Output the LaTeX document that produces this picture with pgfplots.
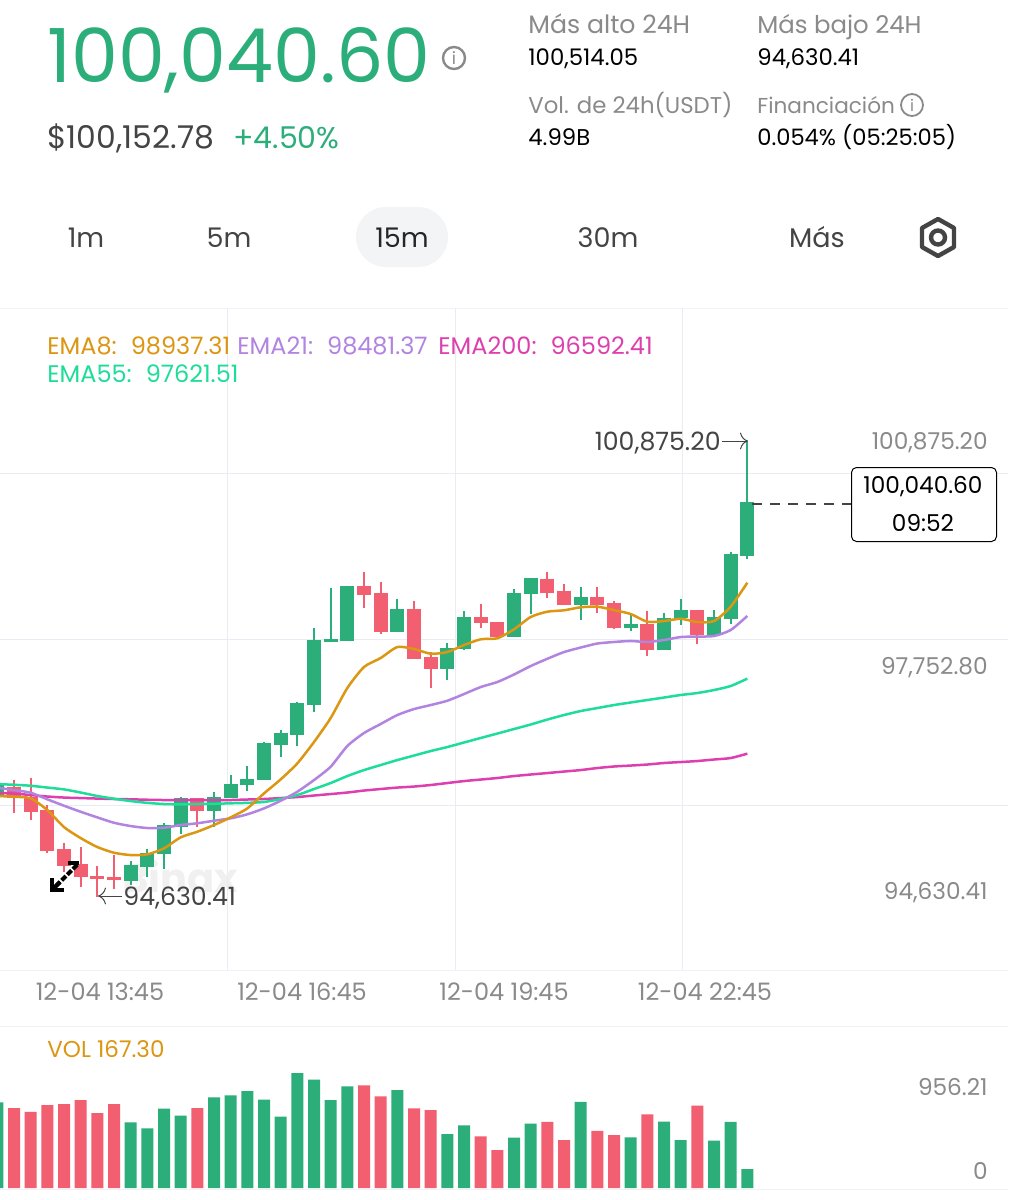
\documentclass[border=0pt]{standalone}
\usepackage{fontspec}
\setmainfont{Poppins}
\usepackage{pgfplots}
\usepackage{pgfplotstable}
\usetikzlibrary{arrows.meta}
\pgfplotsset{compat=1.18}
\definecolor{cgreen}{HTML}{2BAE7A}
\definecolor{cred}{HTML}{F25F70}
\definecolor{cema8}{HTML}{DB9612}
\definecolor{cema21}{HTML}{B284E0}
\definecolor{cema55}{HTML}{1EDD9A}
\definecolor{cema200}{HTML}{DE3FAE}
\definecolor{cgrid}{HTML}{E9ECF3}
\definecolor{clabel}{HTML}{8A8A8A}
\definecolor{cdark}{HTML}{444444}
\definecolor{cpill}{HTML}{F3F4F6}
\pgfplotstableread{
i open high low close
0 96024 96161 95983 96161
8 94845 95119 94790 95069
9 95041 95288 94903 95225
10 95211 95645 95005 95613
11 95590 95993 95489 95979
13 95805 96066 95590 96001
14 95988 96299 95988 96175
15 96162 96427 96084 96248
16 96230 96756 96230 96742
17 96710 96916 96546 96875
18 96848 97305 96697 97283
19 97259 98316 97163 98151
20 98128 98865 98128 98165
21 98138 98892 98138 98892
24 98257 98718 98257 98581
27 97757 98114 97602 98041
28 98023 98549 98014 98463
31 98196 98846 98196 98800
32 98778 99002 98508 98997
35 98631 98874 98425 98745
38 98320 98518 98274 98375
40 98014 98526 98014 98449
41 98449 98713 98357 98559
43 98224 98559 98188 98463
44 98443 99362 98371 99331
45 99308 100875.20 99258 100040.60
}\tGreen
\pgfplotstableread{
i open high low close
1 96138 96230 95781 95983
2 95997 96257 95681 95795
3 95818 95887 95233 95260
4 95284 95370 94972 95051
5 95074 95316 94767 94895
6 94917 95051 94630.41 94876
7 94903 95201 94735 94858
12 95979 95983 95590 95805
22 98896 99084 98594 98768
23 98792 98951 98234 98257
25 98581 98686 97890 97890
26 97913 97990 97493 97757
29 98463 98645 98316 98380
30 98402 98402 98196 98196
33 98992 99080 98731 98792
34 98823 98919 98631 98631
36 98745 98874 98518 98636
37 98663 98686 98302 98320
39 98371 98549 97936 98014
42 98559 98562 98097 98224
}\tRed
\pgfplotstableread{
i ema8 ema21 ema55 ema200
0 96011 96125 96175 96052
1 96001 96093 96165 96045
2 95979 96056 96152 96024
3 95818 95966 96127 96004
4 95585 95878 96102 95990
5 95434 95795 96059 95983
6 95311 95718 96011 95976
7 95233 95644 95974 95970
8 95201 95599 95942 95966
9 95211 95572 95917 95960
10 95293 95576 95901 95956
11 95444 95613 95897 95956
12 95521 95637 95901 95956
13 95613 95672 95904 95956
14 95718 95705 95911 95956
15 95841 95760 95917 95963
16 96047 95841 95929 95970
17 96239 95946 95970 95983
18 96459 96070 96024 95997
19 96752 96230 96107 96018
20 97081 96413 96189 96038
21 97493 96697 96285 96059
22 97781 96875 96367 96086
23 97904 96999 96436 96107
24 98055 97122 96504 96127
25 98028 97204 96566 96141
26 97963 97259 96628 96162
27 97986 97318 96683 96189
28 98082 97410 96745 96216
29 98161 97506 96807 96237
30 98175 97575 96868 96258
31 98298 97678 96930 96285
32 98467 97794 96992 96306
33 98540 97894 97060 96326
34 98559 97986 97122 96347
35 98600 98048 97177 96367
36 98608 98103 97218 96395
37 98562 98124 97259 96416
38 98508 98138 97294 96429
39 98402 98124 97328 96443
40 98411 98151 97362 96464
41 98443 98192 97397 96477
42 98398 98199 97424 96491
43 98411 98206 97465 96512
44 98608 98288 97520 96532
45 98937.31 98481.37 97621.51 96592.41
}\tEma
\pgfplotstableread{
i vol
0 754
8 578
9 525
10 698
11 636
13 798
14 815
15 853
16 777
17 628
18 1012
19 953
20 774
21 895
24 862
27 475
28 551
31 443
32 566
35 757
38 446
40 584
41 422
43 416
44 581
45 167.30
}\tVolG
\pgfplotstableread{
i vol
1 704
2 669
3 730
4 739
5 774
6 660
7 739
12 704
22 903
23 807
25 701
26 686
29 455
30 334
33 581
34 422
36 502
37 466
39 648
42 724
}\tVolR
% text helper: x, baseline y (pixels), anchor, size in pt, colour, text
\newcommand{\T}[6]{\node[anchor=#3,inner sep=0pt,text=#5,font=\fontsize{#4}{#4}\selectfont] at (#1,#2) {#6};}
\begin{document}
\begin{tikzpicture}[x=0.5pt,y=-0.5pt]
\useasboundingbox (0,0) rectangle (1008,1200);
\fill[white] (0,0) rectangle (1008,1200);
% header
\T{47}{82}{base west}{37.3}{cgreen}{100,040.60}
\draw[clabel,line width=1.2pt] (454,58) circle (11);
\T{454}{58}{center}{8.5}{clabel}{i}
\T{47}{148}{base west}{15.7}{cdark}{\$100,152.78}
\T{233}{148}{base west}{15}{cgreen}{+4.50\%}
\T{528}{33}{base west}{12.6}{clabel}{Más alto 24H}
\T{528}{65}{base west}{11.4}{black}{100,514.05}
\T{757}{33}{base west}{12.2}{clabel}{Más bajo 24H}
\T{757}{65}{base west}{11.4}{black}{94,630.41}
\T{528}{113}{base west}{11.4}{clabel}{Vol. de 24h(USDT)}
\T{528}{145}{base west}{11.4}{black}{4.99B}
\T{757}{113}{base west}{10.8}{clabel}{Financiación}
\draw[clabel,line width=0.9pt] (912,105) circle (11);
\T{912}{105}{center}{8}{clabel}{i}
\T{757}{145}{base west}{11.3}{black}{0.054\% (05:25:05)}
% interval tabs
\fill[cpill,rounded corners=15pt] (356,207) rectangle (448,267);
\T{86}{247}{base}{13.5}{cdark}{1m}
\T{229}{247}{base}{13.5}{cdark}{5m}
\T{402}{247}{base}{13.5}{black!85}{15m}
\T{608}{247}{base}{13.5}{cdark}{30m}
\T{817}{247}{base}{13.5}{cdark}{Más}
\draw[cdark,line width=2.2pt,line join=round] (938,219) -- (954,228) -- (954,247) -- (938,256) -- (922,247) -- (922,228) -- cycle;
\draw[cdark,line width=2.2pt] (938,237.5) circle (7);
% panes
\draw[cgrid!70,line width=0.5pt] (0,308) -- (1008,308);
\draw[cgrid!70,line width=0.5pt] (0,970.5) -- (1008,970.5);
\draw[cgrid!70,line width=0.5pt] (0,1026) -- (1008,1026);
\draw[cgrid!70,line width=0.5pt] (0,1189) -- (1008,1189);
% watermark
\T{180}{877}{center}{20}{gray!12}{\bfseries Binax}
% price pane
\begin{axis}[
  at={(0pt,-485pt)},anchor=south west,scale only axis,width=504pt,height=331pt,
  xmin=0.16,xmax=60.64,ymin=93624,ymax=102706,
  axis line style={draw=none},major tick length=0pt,
  scaled y ticks=false,scaled x ticks=false,
  xtick={6.16,18.28,30.4,42.46},
  xticklabels={12-04 13:45,12-04 16:45,12-04 19:45,12-04 22:45},
  xticklabel style={font=\fontsize{12}{12}\selectfont,text=clabel,yshift=-6pt,inner sep=0pt},
  ytick={100875.2,97794,94701},
  yticklabels={{100,875.20},{97,752.80},{94,630.41}},
  yticklabel pos=right,
  yticklabel style={font=\fontsize{11.6}{11.6}\selectfont,text=clabel,anchor=east,xshift=-10pt,yshift=-0.6pt,inner sep=0pt},
  extra x ticks={13.78,27.46,41.08},extra x tick labels={},
  extra x tick style={grid=major,major grid style={cgrid,line width=0.5pt}},
  extra y ticks={100442,98165,95887},extra y tick labels={},
  extra y tick style={grid=major,major grid style={cgrid,line width=0.5pt}},
]
% wicks
\addplot[draw=none,no markers,forget plot,error bars/.cd,y dir=minus,y explicit,error mark=none,
  error bar style={draw=cgreen,line width=1.15pt}]
  table[x=i,y=high,y error minus expr=\thisrow{high}-\thisrow{low}]{\tGreen};
\addplot[draw=none,no markers,forget plot,error bars/.cd,y dir=minus,y explicit,error mark=none,
  error bar style={draw=cred,line width=1.15pt}]
  table[x=i,y=high,y error minus expr=\thisrow{high}-\thisrow{low}]{\tRed};
% bodies
\addplot[draw=none,no markers,forget plot,error bars/.cd,y dir=minus,y explicit,error mark=none,
  error bar style={draw=cgreen,line width=7pt}]
  table[x=i,y=close,y error minus expr=\thisrow{close}-\thisrow{open}]{\tGreen};
\addplot[draw=none,no markers,forget plot,error bars/.cd,y dir=minus,y explicit,error mark=none,
  error bar style={draw=cred,line width=7pt}]
  table[x=i,y=open,y error minus expr=\thisrow{open}-\thisrow{close}]{\tRed};
% EMAs
\addplot[cema200,line width=1.25pt,no marks,smooth,tension=0.4] table[x=i,y=ema200]{\tEma};
\addplot[cema55,line width=1.25pt,no marks,smooth,tension=0.4] table[x=i,y=ema55]{\tEma};
\addplot[cema21,line width=1.25pt,no marks,smooth,tension=0.4] table[x=i,y=ema21]{\tEma};
\addplot[cema8,line width=1.25pt,no marks,smooth,tension=0.4] table[x=i,y=ema8]{\tEma};
\end{axis}
% volume pane
\begin{axis}[
  at={(0pt,-594pt)},anchor=south west,scale only axis,width=504pt,height=81pt,
  xmin=0.16,xmax=60.64,ymin=0,ymax=1425.6,hide axis,
]
\addplot[ybar,bar width=6pt,bar shift=0pt,fill=cgreen,draw=none] table[x=i,y=vol]{\tVolG};
\addplot[ybar,bar width=6pt,bar shift=0pt,fill=cred,draw=none] table[x=i,y=vol]{\tVolR};
\end{axis}
% legend and labels
\T{47}{354}{base west}{12}{cema8}{EMA8:\hspace{7pt}98937.31}
\T{237}{354}{base west}{12}{cema21}{EMA21:\hspace{7pt}98481.37}
\T{438}{354}{base west}{12}{cema200}{EMA200:\hspace{7pt}96592.41}
\T{47}{382}{base west}{12}{cema55}{EMA55:\hspace{7pt}97621.51}
\T{47}{1057}{base west}{11.5}{cema8}{VOL 167.30}
\T{988}{1087}{east}{11.6}{clabel}{956.21}
\T{988}{1171}{east}{11.6}{clabel}{0}
% annotations
\T{721}{450}{base east}{12.6}{cdark}{100,875.20}
\draw[cdark,line width=0.5pt,-{To[length=4pt]}] (722,441) -- (748,441);
\T{123}{905}{base west}{12.6}{cdark}{94,630.41}
\draw[cdark,line width=0.5pt,-{To[length=4pt]}] (122,896) -- (98,896);
\draw[cdark,line width=0.6pt,dash pattern=on 5pt off 4pt] (752,504) -- (851,504);
\draw[black,fill=white,line width=0.5pt,rounded corners=2.5pt] (851.5,467.5) rectangle (996.5,541.5);
\T{923}{493}{base}{11.6}{black}{100,040.60}
\T{923}{531}{base}{11.6}{black}{09:52}
% cursor
\draw[black,line width=2pt,dash pattern=on 3pt off 1pt] (56,886) -- (78,864);
\draw[black,line width=2pt] (53,889) -- (60,882);
\draw[black,line width=2pt] (52,878) -- (52,890) -- (64,890);
\draw[black,line width=2pt] (68,863) -- (79,863);
\end{tikzpicture}
\end{document}
